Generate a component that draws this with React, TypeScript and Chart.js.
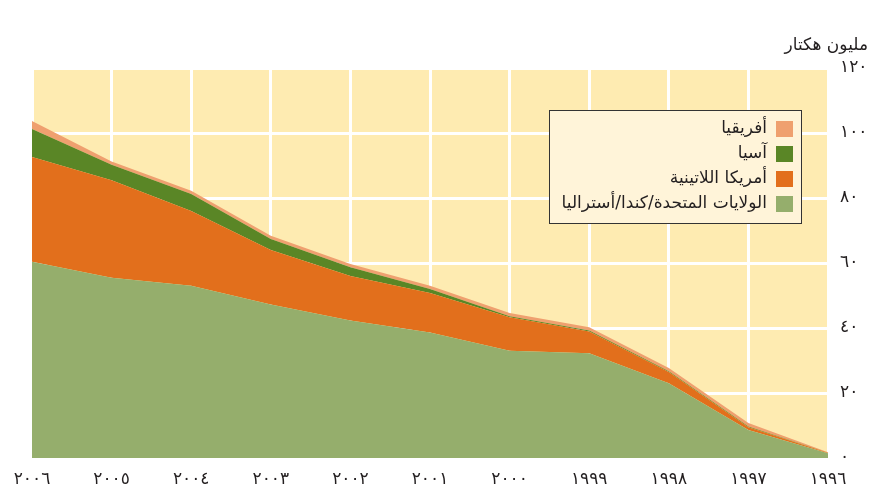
import React, { useEffect, useRef } from "react";
import { Chart, registerables } from "chart.js";

Chart.register(...registerables);

const years = [1996, 1997, 1998, 1999, 2000, 2001, 2002, 2003, 2004, 2005, 2006];
const usCanadaAustralia = [1.5, 8.6, 23.0, 32.2, 33.0, 38.6, 42.3, 47.2, 53.0, 55.5, 60.4];
const latinAmerica = [0.1, 0.9, 3.5, 6.7, 10.3, 12.2, 13.7, 16.8, 23.0, 30.0, 32.2];
const asia = [0.05, 0.2, 0.2, 0.3, 0.3, 1.2, 2.7, 3.4, 5.2, 4.7, 8.6];
const africa = [0.15, 1.1, 1.0, 1.0, 1.0, 1.0, 1.0, 1.0, 1.0, 1.0, 2.5];

const seriesNames = ["الولايات المتحدة/كندا/أستراليا", "أمريكا اللاتينية", "آسيا", "أفريقيا"];
const seriesColors = ["#95AE6C", "#E26F1C", "#5A8626", "#EFA06F"];
const yTitle = "مليون هكتار";

const FONT = "'DejaVu Sans', sans-serif";
const TEXT = "#231f20";

const toArabic = (v: number | string) =>
  String(v).replace(/[0-9]/g, (d) => "٠١٢٣٤٥٦٧٨٩"[Number(d)]);

export default function App() {
  const ref = useRef<HTMLCanvasElement | null>(null);

  useEffect(() => {
    if (!ref.current) return;

    const bgPlugin = {
      id: "bgPlugin",
      beforeDraw(chart: any) {
        const { ctx, chartArea } = chart;
        ctx.save();
        ctx.fillStyle = "#FEEBB1";
        ctx.fillRect(chartArea.left, chartArea.top, chartArea.right - chartArea.left, chartArea.bottom - chartArea.top);
        ctx.restore();
      },
      afterDraw(chart: any) {
        const { ctx, chartArea } = chart;
        ctx.save();
        // y axis title
        ctx.font = `17px ${FONT}`;
        ctx.fillStyle = TEXT;
        ctx.direction = "rtl";
        ctx.textAlign = "right";
        ctx.textBaseline = "middle";
        ctx.fillText(yTitle, chart.width - 8, chartArea.top - 22);

        // legend
        const bx = chartArea.left + 517;
        const by = chartArea.top + 42;
        const bw = 252;
        const bh = 113;
        ctx.fillStyle = "#FFF4D9";
        ctx.fillRect(bx, by, bw, bh);
        ctx.strokeStyle = "#333333";
        ctx.lineWidth = 1;
        ctx.strokeRect(bx + 0.5, by + 0.5, bw, bh);
        const order = [3, 2, 1, 0];
        order.forEach((idx, row) => {
          const cy = by + 19 + row * 25;
          ctx.fillStyle = seriesColors[idx];
          ctx.fillRect(bx + 227, cy - 8, 17, 16);
          ctx.fillStyle = TEXT;
          ctx.font = `17px ${FONT}`;
          ctx.textAlign = "right";
          ctx.textBaseline = "middle";
          ctx.fillText(seriesNames[idx], bx + 218, cy);
        });
        ctx.restore();
      },
    };

    const datasetsSrc = [usCanadaAustralia, latinAmerica, asia, africa];
    const chart = new Chart(ref.current, {
      type: "line",
      data: {
        labels: years.map((y) => toArabic(y)),
        datasets: datasetsSrc.map((d, i) => ({
          label: seriesNames[i],
          data: d,
          backgroundColor: seriesColors[i],
          borderColor: seriesColors[i],
          borderWidth: 0,
          pointRadius: 0,
          tension: 0,
          fill: i === 0 ? "origin" : "-1",
        })),
      },
      options: {
        responsive: false,
        animation: false,
        layout: { padding: { left: 32, top: 68, right: 0, bottom: 0 } },
        plugins: {
          legend: { display: false },
          tooltip: { enabled: false },
          title: { display: false },
        },
        scales: {
          x: {
            reverse: true,
            offset: false,
            grid: { color: "#ffffff", lineWidth: 3, drawTicks: false },
            border: { display: false },
            ticks: {
              autoSkip: false,
              maxRotation: 0,
              padding: 11,
              color: TEXT,
              font: { family: FONT, size: 17 },
            },
            afterFit(scale: any) {
              scale.height = 33;
            },
          },
          y: {
            position: "right",
            stacked: true,
            min: 0,
            max: 120,
            grid: { color: "#ffffff", lineWidth: 3, drawTicks: false },
            border: { display: false },
            ticks: {
              stepSize: 20,
              padding: 12,
              color: TEXT,
              font: { family: FONT, size: 17 },
              callback: (v: any) => toArabic(v),
            },
            afterFit(scale: any) {
              scale.width = 48;
            },
          },
        },
      },
      plugins: [bgPlugin],
    });
    return () => chart.destroy();
  }, []);

  return (
    <div style={{ position: "absolute", left: 0, top: 0, width: 876, height: 491 }}>
      <canvas ref={ref} width={876} height={491} />
    </div>
  );
}
